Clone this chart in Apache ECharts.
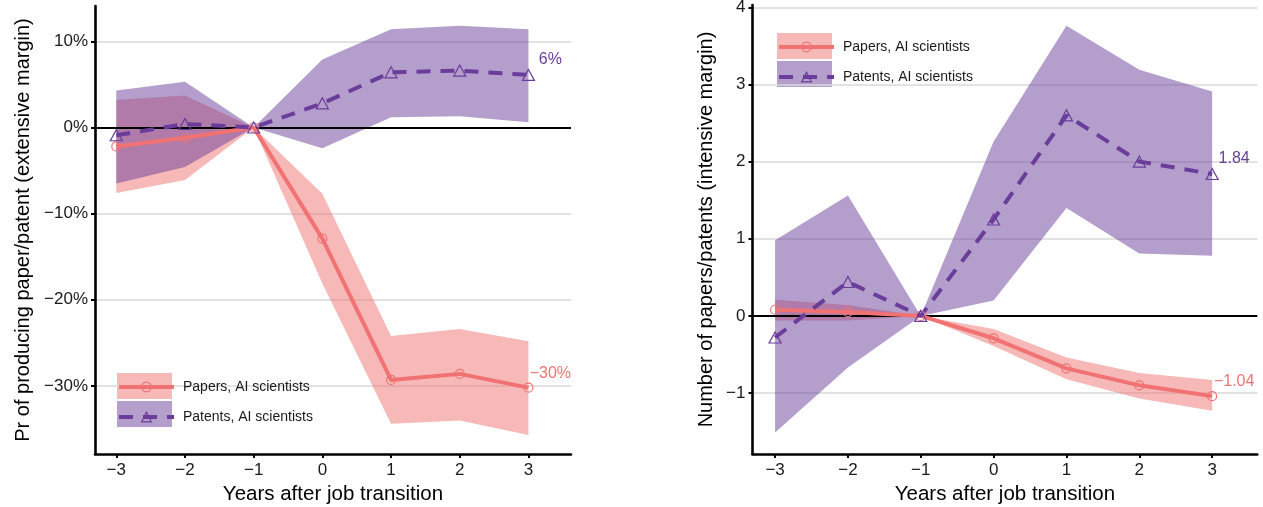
<!DOCTYPE html>
<html><head><meta charset="utf-8">
<script src="https://cdn.jsdelivr.net/npm/echarts@6/dist/echarts.min.js"></script>
<style>html,body{margin:0;padding:0;background:#fff}#c{width:1263px;height:507px}</style>
</head><body><div id="c"></div>
<script>
// ---------- data ----------
const years = [-3, -2, -1, 0, 1, 2, 3];
const xTicks = [-3, -2, -1, 0, 1, 2, 3];
const extTicks = [-30, -20, -10, 0, 10];
const intTicks = [-1, 0, 1, 2, 3, 4];
const seriesNames = ['Papers, AI scientists', 'Patents, AI scientists'];

// Left panel: extensive margin (%)
const extPapers    = [-2.2, -1.2, 0, -12.9, -29.3, -28.6, -30.2];
const extPapersLo  = [-7.6, -6.1, 0, -18.1, -34.4, -34.0, -35.7];
const extPapersHi  = [3.2, 3.7, 0, -7.7, -24.2, -23.4, -24.8];
const extPatents   = [-0.9, 0.4, 0, 2.8, 6.4, 6.6, 6.1];
const extPatentsLo = [-6.5, -4.6, 0, -2.4, 1.2, 1.3, 0.6];
const extPatentsHi = [4.3, 5.3, 0, 7.9, 11.4, 11.8, 11.4];

// Right panel: intensive margin (count)
const intPapers    = [0.08, 0.05, 0, -0.29, -0.68, -0.90, -1.04];
const intPapersLo  = [-0.06, -0.06, 0, -0.39, -0.82, -1.07, -1.23];
const intPapersHi  = [0.21, 0.14, 0, -0.17, -0.54, -0.74, -0.83];
const intPatents   = [-0.28, 0.44, 0, 1.25, 2.60, 2.00, 1.84];
const intPatentsLo = [-1.51, -0.67, 0, 0.20, 1.40, 0.81, 0.78];
const intPatentsHi = [0.98, 1.56, 0, 2.26, 3.76, 3.19, 2.91];

// ---------- style ----------
const FONT = '"Liberation Sans", Arial, sans-serif';
const PINK = '#F07272';
const PURPLE = '#6A3D9A';
const PINK_BAND = 'rgba(240,114,114,0.5)';
const PURPLE_BAND = 'rgba(106,61,154,0.5)';
const minus = s => String(s).replace(/-/g, '\u2212');

function bandSeries(lo, hi, xi, color) {
  return {
    type: 'custom', xAxisIndex: xi, yAxisIndex: xi, z: 1, silent: true, animation: false,
    data: years.map((x, i) => [x, lo[i], hi[i]]),
    encode: { x: 0, y: [1, 2] },
    renderItem: (params, api) => {
      if (params.dataIndex !== 0) return null;
      const pts = [];
      for (let i = 0; i < years.length; i++) pts.push(api.coord([years[i], hi[i]]));
      for (let i = years.length - 1; i >= 0; i--) pts.push(api.coord([years[i], lo[i]]));
      return { type: 'polygon', shape: { points: pts }, style: { fill: color } };
    }
  };
}

function lineSeries(name, vals, xi, color, symbol, size, dashed, fmt, withZero) {
  const s = {
    type: 'line', name: name, xAxisIndex: xi, yAxisIndex: xi, z: 3, animation: false,
    data: years.map((x, i) => i === years.length - 1
      ? { value: [x, vals[i]], label: { show: true } }
      : [x, vals[i]]),
    symbol: symbol, symbolSize: size, showAllSymbol: true,
    itemStyle: { color: 'rgba(255,255,255,0)', borderColor: color, borderWidth: 1.2 },
    lineStyle: { color: color, width: 4, type: dashed ? [14, 10] : 'solid' },
    label: {
      show: false, position: 'top', offset: [22, 4], distance: 5,
      color: color, fontSize: 16, fontFamily: FONT,
      formatter: p => fmt(p.value[1])
    },
    emphasis: { disabled: true }
  };
  if (withZero) {
    s.markLine = {
      silent: true, symbol: 'none', z: 2, animation: false,
      lineStyle: { color: '#000', width: 1.8, type: 'solid' },
      label: { show: false }, emphasis: { disabled: true }, data: [{ yAxis: 0 }]
    };
  }
  return s;
}

const extFmt = v => minus(Math.round(v) + '%');
const intFmt = v => minus(v.toFixed(2));

function xAxisCfg(gi) {
  return {
    gridIndex: gi, type: 'value', min: -3.31, max: 3.62,
    axisLine: { show: true, onZero: false, lineStyle: { color: '#000', width: 2.6 } },
    axisTick: { show: true, length: 4, customValues: xTicks, lineStyle: { color: '#000', width: 2 } },
    axisLabel: { customValues: xTicks, formatter: v => minus(v), fontSize: 17, color: '#1a1a1a', fontFamily: FONT, margin: 8 },
    splitLine: { show: false },
    name: 'Years after job transition', nameLocation: 'middle', nameGap: 30,
    nameTextStyle: { fontSize: 20.5, color: '#000', fontFamily: FONT }
  };
}
function yAxisCfg(gi, min, max, ticks, fmt, name, gap) {
  return {
    gridIndex: gi, type: 'value', min: min, max: max,
    axisLine: { show: true, onZero: false, lineStyle: { color: '#000', width: 2.6 } },
    axisTick: { show: true, length: 4, customValues: ticks, lineStyle: { color: '#000', width: 2 } },
    axisLabel: { customValues: ticks, formatter: fmt, fontSize: 17, color: '#1a1a1a', fontFamily: FONT, margin: 7 },
    splitLine: { show: true, lineStyle: { color: '#d9d9d9', width: 1.5 } },
    name: name, nameLocation: 'middle', nameGap: gap,
    nameTextStyle: { fontSize: 20, color: '#000', fontFamily: FONT }
  };
}

const legendCommon = {
  data: seriesNames, orient: 'vertical', itemWidth: 55, itemHeight: 12, itemGap: 16,
  padding: 0, selectedMode: false, lineStyle: { width: 4 }, itemStyle: { borderWidth: 1.2 },
  textStyle: { fontSize: 14, color: '#1a1a1a', fontFamily: FONT, padding: [0, 0, 0, 4] }
};

const chart = echarts.init(document.getElementById('c'), null, { renderer: 'canvas' });
chart.setOption({
  backgroundColor: '#fff',
  animation: false,
  grid: [
    { left: 95, top: 6, width: 476, height: 448, outerBoundsMode: 'none', containLabel: false },
    { left: 752.5, top: 5, width: 504.8, height: 449, outerBoundsMode: 'none', containLabel: false }
  ],
  xAxis: [xAxisCfg(0), xAxisCfg(1)],
  yAxis: [
    yAxisCfg(0, -37.9, 14.1, extTicks, v => minus(v + '%'), 'Pr of producing paper/patent (extensive margin)', 62),
    yAxisCfg(1, -1.79, 4.03, intTicks, v => minus(v), 'Number of papers/patents (intensive margin)', 36)
  ],
  legend: [
    Object.assign({}, legendCommon, { left: 117, top: 380 }),
    Object.assign({}, legendCommon, { left: 777, top: 40 })
  ],
  graphic: [
    { type: 'rect', left: 117, top: 373, shape: { width: 55, height: 26 }, style: { fill: PINK_BAND }, z: 0, silent: true },
    { type: 'rect', left: 117, top: 401, shape: { width: 55, height: 26 }, style: { fill: PURPLE_BAND }, z: 0, silent: true },
    { type: 'rect', left: 777, top: 33, shape: { width: 55, height: 26 }, style: { fill: PINK_BAND }, z: 0, silent: true },
    { type: 'rect', left: 777, top: 61, shape: { width: 55, height: 26 }, style: { fill: PURPLE_BAND }, z: 0, silent: true }
  ],
  series: [
    bandSeries(extPapersLo, extPapersHi, 0, PINK_BAND),
    bandSeries(extPatentsLo, extPatentsHi, 0, PURPLE_BAND),
    lineSeries(seriesNames[0], extPapers, 0, PINK, 'circle', 9, false, extFmt, true),
    lineSeries(seriesNames[1], extPatents, 0, PURPLE, 'triangle', [12, 11], true, extFmt, false),
    bandSeries(intPapersLo, intPapersHi, 1, PINK_BAND),
    bandSeries(intPatentsLo, intPatentsHi, 1, PURPLE_BAND),
    lineSeries(seriesNames[0], intPapers, 1, PINK, 'circle', 9, false, intFmt, true),
    lineSeries(seriesNames[1], intPatents, 1, PURPLE, 'triangle', [12, 11], true, intFmt, false)
  ]
});
</script>
</body></html>
